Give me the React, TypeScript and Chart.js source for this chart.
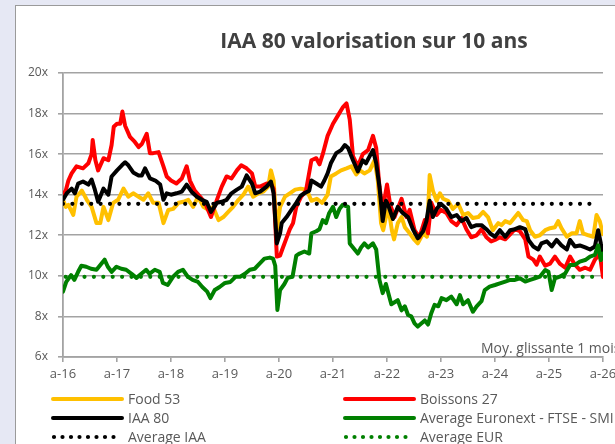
import React, { useEffect, useRef } from "react";
import { Chart, registerables } from "chart.js";

Chart.register(...registerables);

const TITLE = "IAA 80 valorisation sur 10 ans";
const NOTE = "Moy. glissante 1 mois";
const xTickValues = [2016, 2017, 2018, 2019, 2020, 2021, 2022, 2023, 2024, 2025, 2026];
const xTickLabels = ["a-16", "a-17", "a-18", "a-19", "a-20", "a-21", "a-22", "a-23", "a-24", "a-25", "a-26"];
const yTickSuffix = "x";

const food53: [number, number][] = [
  [2016.0, 13.75], [2016.05, 13.4], [2016.1, 13.5], [2016.19, 13.0], [2016.25, 13.9], [2016.35, 14.2], [2016.44, 13.75], [2016.53, 13.4], [2016.62, 12.6], [2016.69, 12.6], [2016.75, 13.4], [2016.84, 12.75], [2016.93, 13.6],
  [2017.02, 13.75], [2017.12, 14.3], [2017.21, 13.9], [2017.3, 14.07], [2017.4, 13.9], [2017.49, 13.75], [2017.58, 14.07], [2017.67, 13.6], [2017.77, 13.6], [2017.86, 12.6], [2017.95, 13.25],
  [2018.04, 13.3], [2018.14, 13.6], [2018.23, 13.65], [2018.32, 13.75], [2018.41, 13.4], [2018.5, 13.9], [2018.6, 13.4], [2018.69, 13.25], [2018.78, 13.4], [2018.88, 12.75], [2018.97, 12.9],
  [2019.06, 13.15], [2019.15, 13.4], [2019.25, 13.75], [2019.34, 14.0], [2019.43, 14.4], [2019.52, 13.9], [2019.62, 14.07], [2019.71, 14.15], [2019.8, 14.4], [2019.85, 15.2], [2019.9, 14.7], [2019.96, 12.25],
  [2020.02, 13.4], [2020.11, 13.9], [2020.2, 14.07], [2020.3, 14.25], [2020.4, 14.3], [2020.51, 14.25], [2020.6, 13.7], [2020.7, 13.8], [2020.8, 13.6], [2020.9, 14.0], [2020.96, 14.9],
  [2021.06, 15.05], [2021.15, 15.2], [2021.25, 15.3], [2021.34, 15.4], [2021.43, 15.0], [2021.5, 15.2], [2021.58, 15.05], [2021.68, 15.2], [2021.77, 15.7], [2021.83, 14.7], [2021.89, 12.6], [2021.93, 12.25], [2021.98, 12.9],
  [2022.03, 13.3], [2022.09, 12.25], [2022.13, 11.8], [2022.2, 12.6], [2022.27, 12.9], [2022.33, 12.4], [2022.42, 12.1], [2022.51, 11.77], [2022.57, 11.6], [2022.63, 11.9], [2022.67, 12.1], [2022.74, 11.93], [2022.79, 14.97], [2022.85, 14.2], [2022.92, 13.7], [2022.98, 14.07],
  [2023.04, 13.8], [2023.13, 13.7], [2023.22, 13.3], [2023.32, 13.55], [2023.41, 13.0], [2023.5, 13.1], [2023.59, 12.85], [2023.69, 12.9], [2023.78, 13.15], [2023.87, 12.9], [2023.96, 12.25],
  [2024.06, 12.6], [2024.12, 12.5], [2024.19, 12.7], [2024.28, 12.6], [2024.37, 12.9], [2024.43, 13.1], [2024.52, 12.75], [2024.59, 12.7], [2024.65, 12.25], [2024.74, 11.93], [2024.83, 12.0], [2024.93, 12.25],
  [2025.02, 12.35], [2025.11, 12.4], [2025.17, 12.7], [2025.23, 12.35], [2025.33, 11.93], [2025.42, 12.1], [2025.51, 12.1], [2025.57, 12.7], [2025.63, 12.1], [2025.73, 12.0], [2025.82, 11.93], [2025.88, 13.0], [2025.94, 12.7], [2026.0, 12.05],
];

const boissons27: [number, number][] = [
  [2016.0, 14.0], [2016.05, 14.2], [2016.1, 14.7], [2016.16, 15.05], [2016.25, 15.4], [2016.37, 15.3], [2016.47, 15.55], [2016.53, 16.0], [2016.55, 16.7], [2016.6, 15.7], [2016.65, 15.2], [2016.75, 15.8], [2016.84, 15.7], [2016.9, 16.45], [2016.94, 17.35],
  [2017.0, 17.5], [2017.06, 17.5], [2017.1, 18.1], [2017.15, 17.4], [2017.24, 16.85], [2017.33, 16.6], [2017.4, 16.35], [2017.46, 16.5], [2017.55, 17.0], [2017.61, 16.05], [2017.67, 16.05], [2017.77, 16.1], [2017.86, 15.4], [2017.92, 14.9],
  [2018.0, 14.7], [2018.1, 14.55], [2018.2, 14.8], [2018.29, 15.4], [2018.35, 14.7], [2018.44, 14.2], [2018.54, 13.9], [2018.63, 13.6], [2018.74, 12.9], [2018.85, 13.75], [2018.94, 14.4],
  [2019.03, 14.9], [2019.12, 14.8], [2019.22, 15.2], [2019.3, 15.45], [2019.4, 15.3], [2019.5, 15.05], [2019.56, 14.4], [2019.65, 14.4], [2019.77, 14.55], [2019.86, 14.5], [2019.9, 14.3], [2019.96, 10.95],
  [2020.02, 11.0], [2020.06, 11.3], [2020.13, 11.8], [2020.2, 12.3], [2020.26, 12.6], [2020.32, 13.4], [2020.41, 13.9], [2020.5, 14.2], [2020.6, 15.7], [2020.69, 15.8], [2020.75, 15.5], [2020.81, 16.0], [2020.9, 16.9],
  [2021.0, 17.5], [2021.09, 17.9], [2021.18, 18.3], [2021.25, 18.5], [2021.31, 17.7], [2021.37, 15.9], [2021.46, 15.4], [2021.55, 16.0], [2021.65, 16.2], [2021.74, 16.9], [2021.8, 16.3], [2021.86, 14.4], [2021.92, 13.25],
  [2022.0, 14.5], [2022.06, 13.5], [2022.14, 12.9], [2022.27, 13.8], [2022.36, 12.9], [2022.42, 13.25], [2022.51, 12.26], [2022.6, 11.9], [2022.7, 12.75], [2022.76, 12.1], [2022.82, 13.6], [2022.92, 13.0],
  [2023.0, 13.25], [2023.1, 13.1], [2023.19, 12.7], [2023.29, 12.5], [2023.38, 12.85], [2023.47, 12.3], [2023.56, 11.9], [2023.66, 12.0], [2023.75, 12.3], [2023.84, 11.9], [2023.93, 11.7],
  [2024.0, 11.77], [2024.09, 11.9], [2024.19, 11.8], [2024.28, 12.05], [2024.37, 12.3], [2024.46, 12.2], [2024.56, 11.8], [2024.62, 10.95], [2024.71, 10.8], [2024.77, 10.55], [2024.83, 10.95], [2024.93, 10.5],
  [2025.02, 10.6], [2025.11, 10.95], [2025.2, 10.6], [2025.3, 10.4], [2025.39, 10.95], [2025.48, 10.55], [2025.57, 10.3], [2025.67, 10.4], [2025.76, 10.3], [2025.85, 10.8], [2025.94, 11.1], [2026.0, 9.95],
];

const iaa80: [number, number][] = [
  [2016.0, 13.75], [2016.07, 14.07], [2016.16, 14.3], [2016.22, 14.07], [2016.28, 14.55], [2016.37, 14.65], [2016.47, 14.5], [2016.53, 14.75], [2016.59, 14.25], [2016.65, 13.65], [2016.75, 14.3], [2016.84, 14.0], [2016.9, 14.9],
  [2017.0, 15.2], [2017.09, 15.45], [2017.15, 15.6], [2017.21, 15.45], [2017.3, 15.1], [2017.4, 14.95], [2017.46, 14.95], [2017.52, 15.3], [2017.61, 14.8], [2017.71, 14.7], [2017.8, 14.5], [2017.86, 13.75], [2017.92, 14.07],
  [2018.0, 14.0], [2018.1, 14.07], [2018.2, 14.15], [2018.29, 14.5], [2018.38, 14.15], [2018.48, 13.9], [2018.57, 13.75], [2018.66, 13.65], [2018.74, 13.15], [2018.85, 13.6], [2018.94, 13.65],
  [2019.03, 13.75], [2019.12, 14.07], [2019.22, 14.25], [2019.31, 14.4], [2019.4, 14.95], [2019.5, 14.55], [2019.56, 14.07], [2019.65, 14.15], [2019.77, 14.4], [2019.85, 14.65], [2019.9, 14.07], [2019.96, 11.6],
  [2020.02, 12.1], [2020.05, 12.6], [2020.14, 12.9], [2020.23, 13.25], [2020.32, 13.6], [2020.4, 13.95], [2020.47, 14.07], [2020.56, 14.2], [2020.6, 14.7], [2020.69, 14.55], [2020.78, 14.4], [2020.84, 14.7], [2020.9, 15.05], [2020.96, 15.55],
  [2021.06, 16.05], [2021.15, 16.2], [2021.22, 16.45], [2021.28, 16.3], [2021.37, 15.7], [2021.46, 15.15], [2021.55, 15.7], [2021.61, 15.55], [2021.68, 15.9], [2021.74, 16.2], [2021.8, 15.55], [2021.86, 14.4], [2021.92, 12.7], [2021.98, 13.7],
  [2022.02, 13.5], [2022.11, 12.8], [2022.2, 13.4], [2022.29, 13.1], [2022.39, 12.9], [2022.48, 12.3], [2022.57, 11.85], [2022.67, 12.2], [2022.73, 12.7], [2022.79, 13.7], [2022.85, 12.9], [2022.92, 13.3],
  [2023.0, 13.55], [2023.1, 13.3], [2023.19, 12.9], [2023.29, 13.0], [2023.38, 12.7], [2023.47, 12.85], [2023.56, 12.4], [2023.66, 12.5], [2023.75, 12.5], [2023.84, 12.3], [2023.93, 12.05],
  [2024.0, 11.93], [2024.09, 12.25], [2024.19, 11.93], [2024.28, 12.25], [2024.37, 12.3], [2024.46, 12.4], [2024.56, 12.3], [2024.62, 11.77], [2024.71, 11.45], [2024.8, 11.3], [2024.86, 11.6], [2024.96, 11.7],
  [2025.05, 11.45], [2025.14, 11.77], [2025.23, 11.5], [2025.33, 11.3], [2025.39, 11.77], [2025.48, 11.45], [2025.57, 11.5], [2025.67, 11.4], [2025.76, 11.3], [2025.85, 11.45], [2025.91, 12.25], [2025.96, 11.6], [2026.0, 11.2],
];

const euronext: [number, number][] = [
  [2016.0, 9.22], [2016.06, 9.7], [2016.15, 10.04], [2016.21, 9.8], [2016.28, 10.2], [2016.34, 10.5], [2016.43, 10.45], [2016.52, 10.35], [2016.62, 10.3], [2016.71, 10.6], [2016.77, 10.8], [2016.83, 10.45], [2016.9, 10.2], [2016.99, 10.45],
  [2017.08, 10.35], [2017.17, 10.3], [2017.27, 10.1], [2017.36, 9.9], [2017.45, 10.1], [2017.54, 10.3], [2017.6, 10.1], [2017.7, 10.3], [2017.79, 10.2], [2017.85, 9.65], [2017.94, 9.55],
  [2018.04, 9.96], [2018.13, 10.2], [2018.22, 10.3], [2018.31, 9.96], [2018.4, 9.8], [2018.5, 9.7], [2018.58, 9.45], [2018.67, 9.22], [2018.73, 8.9], [2018.81, 9.3], [2018.9, 9.45],
  [2019.0, 9.65], [2019.1, 9.7], [2019.2, 9.96], [2019.28, 9.96], [2019.37, 10.1], [2019.46, 10.3], [2019.55, 10.35], [2019.64, 10.6], [2019.73, 10.85], [2019.83, 10.9], [2019.89, 10.85], [2019.93, 10.5], [2019.97, 8.32],
  [2020.02, 9.3], [2020.1, 9.6], [2020.16, 9.9], [2020.25, 9.95], [2020.32, 11.0], [2020.38, 11.1], [2020.47, 11.2], [2020.56, 11.1], [2020.6, 12.1], [2020.69, 12.2], [2020.75, 12.3], [2020.81, 12.75], [2020.87, 12.6], [2020.93, 13.1],
  [2021.0, 13.4], [2021.06, 12.9], [2021.12, 13.3], [2021.18, 13.5], [2021.28, 13.4], [2021.31, 11.6], [2021.37, 11.4], [2021.46, 11.1], [2021.52, 11.4], [2021.58, 11.6], [2021.65, 11.4], [2021.74, 11.6], [2021.8, 11.3], [2021.86, 9.8], [2021.92, 9.15], [2021.98, 9.6],
  [2022.04, 9.0], [2022.08, 8.6], [2022.2, 8.8], [2022.27, 8.3], [2022.33, 8.5], [2022.39, 8.07], [2022.45, 8.0], [2022.51, 7.66], [2022.57, 7.5], [2022.64, 7.66], [2022.7, 7.8], [2022.76, 7.6], [2022.82, 8.16], [2022.88, 8.57], [2022.95, 8.5],
  [2023.01, 8.9], [2023.1, 8.8], [2023.19, 8.98], [2023.29, 8.6], [2023.35, 9.05], [2023.41, 8.6], [2023.5, 8.8], [2023.59, 8.23], [2023.66, 8.5], [2023.75, 8.75], [2023.81, 9.3], [2023.9, 9.47],
  [2024.0, 9.55], [2024.09, 9.63], [2024.19, 9.72], [2024.28, 9.8], [2024.37, 9.8], [2024.46, 9.88], [2024.56, 9.72], [2024.65, 9.8], [2024.74, 9.88], [2024.83, 9.96], [2024.93, 10.29], [2024.99, 10.2],
  [2025.05, 9.3], [2025.11, 9.88], [2025.2, 9.96], [2025.3, 10.12], [2025.39, 10.54], [2025.48, 10.54], [2025.57, 10.7], [2025.67, 10.78], [2025.76, 10.95], [2025.85, 11.03], [2025.91, 11.5], [2025.96, 10.78], [2026.0, 11.1],
];

const averageIAA: [number, number][] = [[2016.0, 13.55], [2025.82, 13.55]];
const averageEUR: [number, number][] = [[2016.05, 9.95], [2025.82, 9.95]];

const COLORS = { food: "#FFC000", boissons: "#FF0000", iaa: "#000000", eur: "#008000" };
const FONT = "'Open Sans', 'DejaVu Sans', sans-serif";
const TEXT = "#595959";
const GRID = "#a3a3a3";

const toXY = (arr: [number, number][]) => arr.map(([x, y]) => ({ x, y }));

const legendItems = [
  { label: "Food 53", color: COLORS.food, dotted: false, col: 0, row: 0 },
  { label: "Boissons 27", color: COLORS.boissons, dotted: false, col: 1, row: 0 },
  { label: "IAA 80", color: COLORS.iaa, dotted: false, col: 0, row: 1 },
  { label: "Average Euronext - FTSE - SMI", color: COLORS.eur, dotted: false, col: 1, row: 1 },
  { label: "Average IAA", color: COLORS.iaa, dotted: true, col: 0, row: 2 },
  { label: "Average EUR", color: COLORS.eur, dotted: true, col: 1, row: 2 },
];

export default function App() {
  const ref = useRef<HTMLCanvasElement | null>(null);

  useEffect(() => {
    if (!ref.current) return;
    const line = (label: string, data: [number, number][], color: string, width = 4) => ({
      label,
      data: toXY(data),
      borderColor: color,
      backgroundColor: color,
      borderWidth: width,
      pointRadius: 0,
      tension: 0,
      borderJoinStyle: "round" as const,
      borderCapStyle: "round" as const,
      fill: false,
    });
    const dotted = (label: string, data: [number, number][], color: string) => ({
      ...line(label, data, color, 4.2),
      borderDash: [0, 9.4],
      borderCapStyle: "round" as const,
    });
    const chart = new Chart(ref.current, {
      type: "line",
      data: {
        datasets: [
          dotted("Average EUR", averageEUR, COLORS.eur),
          dotted("Average IAA", averageIAA, COLORS.iaa),
          line("Average Euronext - FTSE - SMI", euronext, COLORS.eur),
          line("IAA 80", iaa80, COLORS.iaa),
          line("Boissons 27", boissons27, COLORS.boissons),
          line("Food 53", food53, COLORS.food),
        ] as any,
      },
      options: {
        animation: false,
        responsive: true,
        maintainAspectRatio: false,
        layout: { padding: { left: 0, top: 67, right: 33, bottom: 57 } },
        plugins: { legend: { display: false }, title: { display: false }, tooltip: { enabled: false } },
        scales: {
          x: {
            type: "linear",
            min: 2016,
            max: 2026,
            afterBuildTicks: (s: any) => {
              s.ticks = xTickValues.map((v) => ({ value: v }));
            },
            afterFit: (s: any) => {
              s.height = 30;
            },
            ticks: {
              autoSkip: false,
              maxRotation: 0,
              padding: 4,
              color: TEXT,
              font: { family: FONT, size: 13 },
              callback: (_v: any, i: number) => xTickLabels[i],
            },
            grid: { drawOnChartArea: false, drawTicks: true, tickLength: 5, color: GRID, lineWidth: 1.6 },
            border: { color: GRID, width: 1.8 },
          },
          y: {
            min: 6,
            max: 20,
            afterFit: (s: any) => {
              s.width = 47;
            },
            ticks: {
              stepSize: 2,
              padding: 10,
              color: TEXT,
              font: { family: FONT, size: 12 },
              callback: (v: any) => `${v}${yTickSuffix}`,
            },
            grid: { color: GRID, lineWidth: 1.6, tickLength: 5, drawTicks: true },
            border: { color: GRID, width: 1.8 },
          },
        },
      },
    });
    return () => chart.destroy();
  }, []);

  return (
    <div
      style={{
        position: "absolute",
        left: 0,
        top: 0,
        width: 615,
        height: 444,
        overflow: "hidden",
        background: "#e6e8f4",
        fontFamily: FONT,
      }}
    >
      <div
        style={{
          position: "absolute",
          left: 15,
          top: 5,
          width: 700,
          height: 500,
          background: "#ffffff",
          border: "1px solid #9a9a9a",
        }}
      />
      <div style={{ position: "absolute", left: 16, top: 6, width: 620, height: 438 }}>
        <canvas ref={ref} />
      </div>
      <div
        style={{
          position: "absolute",
          left: 0,
          width: 748,
          top: 25,
          textAlign: "center",
          fontSize: 21,
          fontWeight: 700,
          color: "#404040",
          whiteSpace: "nowrap",
          lineHeight: "30px",
        }}
      >
        {TITLE}
      </div>
      <div
        style={{
          position: "absolute",
          left: 481,
          top: 339,
          fontSize: 14,
          color: TEXT,
          whiteSpace: "nowrap",
          lineHeight: "18px",
        }}
      >
        {NOTE}
      </div>
      {legendItems.map((it) => {
        const x0 = it.col === 0 ? 50 : 342;
        const cy = 399 + it.row * 19;
        return (
          <div key={it.label} style={{ position: "absolute", left: x0, top: cy - 10, height: 20, whiteSpace: "nowrap" }}>
            <svg width={74} height={20} style={{ position: "absolute", left: 0, top: 0 }}>
              {it.dotted ? (
                <line x1={4} y1={10} x2={72} y2={10} stroke={it.color} strokeWidth={4.2} strokeLinecap="round" strokeDasharray="0 8.5" />
              ) : (
                <line x1={3} y1={10} x2={72} y2={10} stroke={it.color} strokeWidth={4} strokeLinecap="round" />
              )}
            </svg>
            <span
              style={{ position: "absolute", left: 78, top: 0, fontSize: 14, lineHeight: "20px", color: TEXT }}
            >
              {it.label}
            </span>
          </div>
        );
      })}
    </div>
  );
}
